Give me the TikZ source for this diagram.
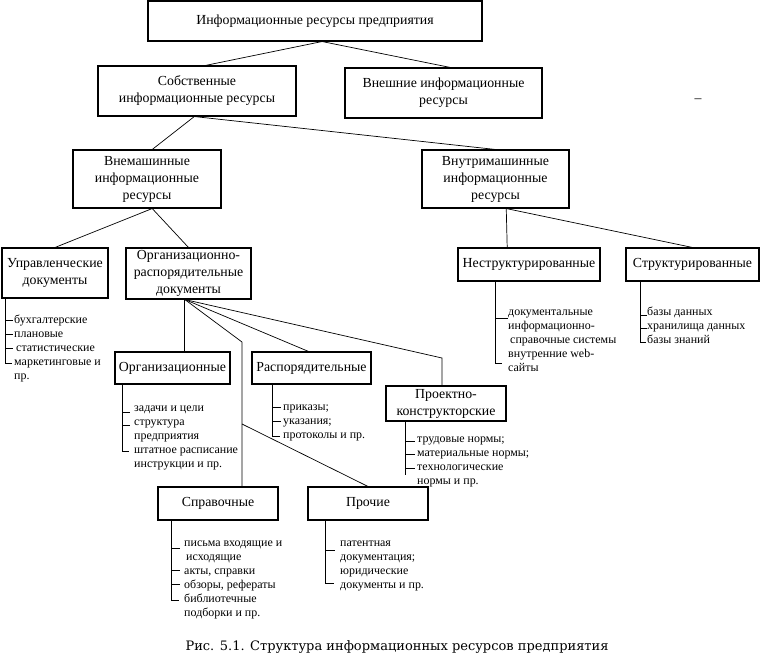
\documentclass[tikz,border=0pt]{standalone}
\usepackage{fontspec}
\setmainfont{Liberation Serif}
\newfontfamily\capfont{DejaVu Serif}

\tikzset{
  box/.style={draw, line width=0.9pt, inner sep=0pt, align=center, font=\fontsize{11.8}{14.5}\selectfont},
  list/.style={inner sep=0pt, anchor=north west, align=left, font=\fontsize{10.2}{12}\selectfont},
  link/.style={line width=0.6pt},
}

\begin{document}
\begin{tikzpicture}[x=0.03cm, y=-0.03cm]
    \useasboundingbox (0,0) rectangle (760,658);

    % boxes
    \node[box, minimum width=10.02cm, minimum height=1.2cm] (top) at (315,21) {Информационные ресурсы предприятия};
    \node[box, minimum width=5.94cm, minimum height=1.5cm] (sobst) at (197,91) {Собственные\\информационные ресурсы};
    \node[box, minimum width=5.91cm, minimum height=1.5cm] (vnesh) at (443.5,93) {Внешние информационные\\ресурсы};
    \node[box, minimum width=4.44cm, minimum height=1.74cm] (vnemash) at (147,179) {Внемашинные\\информационные\\ресурсы};
    \node[box, minimum width=4.41cm, minimum height=1.74cm] (vnutr) at (495.5,179) {Внутримашинные\\информационные\\ресурсы};
    \node[box, minimum width=3.18cm, minimum height=1.5cm] (uprav) at (55,273) {Управленческие\\документы};
    \node[box, minimum width=3.75cm, minimum height=1.53cm] (orgrasp) at (188.5,273.5) {Организационно-\\распорядительные\\документы};
    \node[box, minimum width=4.26cm, minimum height=0.99cm] (nestr) at (529,264.5) {Неструктурированные};
    \node[box, minimum width=3.99cm, minimum height=0.99cm] (str) at (692.5,264.5) {Структурированные};
    \node[box, minimum width=3.45cm, minimum height=0.96cm] (org) at (172.5,368) {Организационные};
    \node[box, minimum width=3.57cm, minimum height=0.96cm] (rasp) at (311.5,368) {Распорядительные};
    \node[box, minimum width=3.6cm, minimum height=1.05cm] (proekt) at (446,403.5) {Проектно-\\конструкторские};
    \node[box, minimum width=3.6cm, minimum height=0.99cm] (sprav) at (218,503.5) {Справочные};
    \node[box, minimum width=3.6cm, minimum height=0.99cm] (proch) at (368,503.5) {Прочие};
    \node[font=\fontsize{11.8}{14.5}\selectfont] (dashmark) at (698,101) {–};

    % links
    \draw[link] (top.-71) -- (sobst.72);
    \draw[link] (top.-71) -- (vnesh.75);
    \draw[link] (sobst.-96) -- (vnemash.80);
    \draw[link] (sobst.-96) -- (vnutr.north);
    \draw[link] (vnemash.-80) -- (uprav.north);
    \draw[link] (vnemash.-80) -- (orgrasp.north);
    \draw[link] (vnutr.-70) -- (nestr.142);
    \draw[link] (vnutr.-70) -- (str.north);

    \coordinate (ors) at (orgrasp.-98);
    \coordinate (j1) at (242,342);
    \coordinate (j2) at (242,424);
    \coordinate (j3) at (442,358);
    \draw[link] (ors) -- (ors |- org.north);
    \draw[link] (ors) -- (j1) -- (j1 |- sprav.north);
    \draw[link] (ors) -- (rasp.100);
    \draw[link] (ors) -- (j3) -- (j3 |- proekt.north);
    \draw[link] (j2) -- (proch.north);

    % lists
    \node[list] (upravlist) at (14,313) {\strut бухгалтерские\\плановые\\\,статистические\\маркетинговые и\\пр.};
    \draw[link] (uprav.south west) ++(4,0) -- ++(0,65) -- ++(7,0);
    \draw[link] (6,320) -- ++(7,0);
    \draw[link] (6,334) -- ++(7,0);
    \draw[link] (6,348) -- ++(7,0);

    \node[list] (orglist) at (134,401) {\strut задачи и цели\\структура\\предприятия\\штатное расписание\\инструкции и пр.};
    \draw[link] (org.south west) ++(8,0) -- ++(0,67) -- ++(7,0);
    \draw[link] (123,412) -- ++(7,0);
    \draw[link] (123,425) -- ++(7,0);

    \node[list] (rasplist) at (283,400) {\strut приказы;\\указания;\\протоколы и пр.};
    \draw[link] (rasp.south west) ++(21,0) -- ++(0,52) -- ++(8,0);
    \draw[link] (273,407) -- ++(8,0);
    \draw[link] (273,421) -- ++(8,0);

    \node[list] (proektlist) at (417,432) {\strut трудовые нормы;\\материальные нормы;\\технологические\\нормы и пр.};
    \draw[link] (proekt.south west) ++(20,0) -- ++(0,53);
    \draw[link] (406,441) -- ++(9,0);
    \draw[link] (406,454) -- ++(9,0);
    \draw[link] (406,468) -- ++(9,0);

    \node[list] (spravlist) at (184,536) {\strut письма входящие и\\\,исходящие\\акты, справки\\обзоры, рефераты\\библиотечные\\подборки и пр.};
    \draw[link] (sprav.south west) ++(14,0) -- ++(0,80) -- ++(8,0);
    \draw[link] (172,548) -- ++(8,0);
    \draw[link] (172,570) -- ++(8,0);
    \draw[link] (172,584) -- ++(8,0);

    \node[list] (prochlist) at (340,536) {\strut патентная\\документация;\\юридические\\документы и пр.};
    \draw[link] (proch.south west) ++(18,0) -- ++(0,63) -- ++(9,0);
    \draw[link] (326,550) -- ++(9,0);

    \node[list] (nestrlist) at (508,305) {\strut документальные\\информационно-\\\,справочные системы\\внутренние web-\\сайты};
    \draw[link] (nestr.south west) ++(38,0) -- ++(0,82) -- ++(7,0);
    \draw[link] (496,318) -- ++(12,0);

    \node[list] (strlist) at (647,305) {\strut базы данных\\хранилища данных\\базы знаний};
    \draw[link] (str.south west) ++(15,0) -- ++(0,61) -- ++(6,0);
    \draw[link] (641,315) -- ++(6,0);
    \draw[link] (641,328) -- ++(6,0);

    % caption
    \node[font=\capfont\fontsize{11.1}{13}\selectfont] (caption) at (397,647) {Рис. 5.1. Структура информационных ресурсов предприятия};
\end{tikzpicture}
\end{document}
